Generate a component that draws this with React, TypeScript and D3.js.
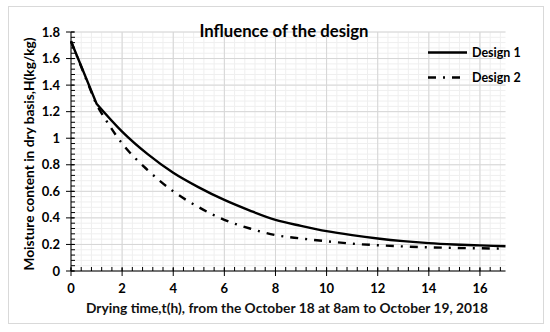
import React from 'react';
import * as d3 from 'd3';

// drying time (h)
const hours = [0, 1, 2, 3, 4, 5, 6, 7, 8, 9, 10, 11, 12, 13, 14, 15, 16, 17];
// moisture content, dry basis (kg/kg)
const design1 = [1.73, 1.26, 1.05, 0.88, 0.74, 0.63, 0.535, 0.455, 0.385, 0.34, 0.3, 0.27, 0.245, 0.225, 0.21, 0.2, 0.193, 0.186];
const design2 = [1.73, 1.25, 0.96, 0.76, 0.6, 0.48, 0.385, 0.32, 0.27, 0.245, 0.224, 0.206, 0.194, 0.185, 0.178, 0.174, 0.171, 0.168];

const xTicks = [0, 2, 4, 6, 8, 10, 12, 14, 16];
const yTicks = [0, 0.2, 0.4, 0.6, 0.8, 1, 1.2, 1.4, 1.6, 1.8];
const yTickLabels = ['0', '0.2', '0.4', '0.6', '0.8', '1', '1.2', '1.4', '1.6', '1.8'];

const seriesNames = ['Design 1', 'Design 2'];
const dashes = ['none', '8,7,2,7'];

const App = () => {
    const left = 71, right = 505.5, top = 32, bottom = 271;
    const font = 'Lato, "Open Sans", sans-serif';

    const x = d3.scaleLinear().domain([0, 17]).range([left, right]);
    const y = d3.scaleLinear().domain([0, 1.8]).range([bottom, top]);

    const xMinor = d3.range(0, 16.81, 0.4);
    const yMinor = d3.range(0, 1.801, 0.04);

    // first hour is a straight drop, the rest is smoothed
    const smooth = d3.line<number>()
        .x((d, i) => x(hours[i + 1]))
        .y(d => y(d))
        .curve(d3.curveMonotoneX);
    const path = (s: number[]) =>
        `M${x(hours[0])},${y(s[0])}` + (smooth(s.slice(1)) || '').replace(/^M/, 'L');

    const series = [design1, design2];

    return (
        <svg width={550} height={332} style={{position: 'absolute', left: 0, top: 0}} fontFamily={font}>
            <rect x={8.5} y={6.5} width={535} height={317} fill="#fff" stroke="#d9d9d9" />

            {/* grid */}
            {yMinor.map((v, i) =>
                <line key={'ym' + i} x1={left} x2={right} y1={y(v)} y2={y(v)} stroke="#efefef" />
            )}
            {xMinor.map((v, i) =>
                <line key={'xm' + i} x1={x(v)} x2={x(v)} y1={top} y2={bottom} stroke="#efefef" />
            )}
            {yTicks.map(v =>
                <line key={'yg' + v} x1={left} x2={right} y1={y(v)} y2={y(v)} stroke="#d6d6d6" />
            )}
            {xTicks.map(v =>
                <line key={'xg' + v} x1={x(v)} x2={x(v)} y1={top} y2={bottom} stroke="#d6d6d6" />
            )}

            {/* axes */}
            <line x1={left} x2={left} y1={top} y2={bottom} stroke="#000" />
            <line x1={left} x2={right} y1={bottom} y2={bottom} stroke="#000" />
            {yMinor.map((v, i) =>
                <line key={'ymt' + i} x1={left} x2={left + 4} y1={y(v)} y2={y(v)} stroke="#000" />
            )}
            {yTicks.map(v =>
                <line key={'ymj' + v} x1={left - 5} x2={left + 3} y1={y(v)} y2={y(v)} stroke="#000" />
            )}
            {xMinor.map((v, i) =>
                <line key={'xmt' + i} x1={x(v)} x2={x(v)} y1={bottom - 4} y2={bottom} stroke="#000" />
            )}
            {xTicks.map(v =>
                <line key={'xmj' + v} x1={x(v)} x2={x(v)} y1={bottom - 3} y2={bottom + 5} stroke="#000" />
            )}

            <g fontSize="13px" fontWeight="bold" fill="#000">
                {yTicks.map((v, i) =>
                    <text key={'yl' + v} x={left - 11} y={y(v)} dy="0.35em" textAnchor="end">{yTickLabels[i]}</text>
                )}
                {xTicks.map(v =>
                    <text key={'xl' + v} x={x(v)} y={293} textAnchor="middle">{v}</text>
                )}
            </g>

            {/* series */}
            {series.map((s, i) =>
                <path key={'s' + i} d={path(s)} fill="none" stroke="#000" strokeWidth={2.4}
                      strokeDasharray={dashes[i]} />
            )}

            {/* legend */}
            {seriesNames.map((name, i) =>
                <g key={name} transform={`translate(0, ${52.5 + i * 25})`}>
                    <line x1={428} x2={467} y1={0} y2={0} stroke="#000" strokeWidth={2.4} strokeDasharray={dashes[i]} />
                    <text x={472} y={0} dy="0.35em" fontSize="12.5px" fontWeight="bold">{name}</text>
                </g>
            )}

            <text x={284} y={37} textAnchor="middle" fontSize="16.5px" fontWeight="bold"
                  textLength={169} lengthAdjust="spacingAndGlyphs">Influence of the design</text>
            <text transform="translate(34, 154) rotate(-90)" textAnchor="middle" fontSize="13.5px" fontWeight="bold"
                  textLength={233} lengthAdjust="spacingAndGlyphs">Moisture content in dry basis,H(kg/kg)</text>
            <text x={287} y={313} textAnchor="middle" fontSize="13.5px" fontWeight="bold" fill="#111"
                  textLength={402} lengthAdjust="spacingAndGlyphs">Drying time,t(h), from the October 18 at 8am to October 19, 2018</text>
        </svg>
    );
};

export default App;
